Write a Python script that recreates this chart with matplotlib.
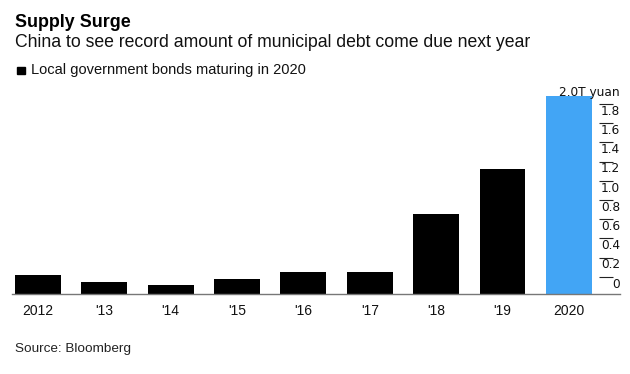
import numpy as np
import matplotlib.pyplot as plt
from matplotlib.patches import Rectangle

plt.rcParams['font.family'] = ['Liberation Sans', 'DejaVu Sans']

# ================ 数据 ================
years = ['2012', "'13", "'14", "'15", "'16", "'17", "'18", "'19", '2020']
values = [0.20, 0.13, 0.09, 0.16, 0.23, 0.23, 0.83, 1.30, 2.06]   # trillion yuan
colors = ['black'] * 8 + ['#42a5f5']
tick_vals = [0, 0.2, 0.4, 0.6, 0.8, 1.0, 1.2, 1.4, 1.6, 1.8]
tick_labels = ['0', '0.2', '0.4', '0.6', '0.8', '1.0', '1.2', '1.4', '1.6', '1.8']
tick_shift = 0.18   # labels sit a little above the bar baseline

W, H = 630, 374
fig = plt.figure(figsize=(W / 100, H / 100), dpi=100)
ax = fig.add_axes([12 / W, 80 / H, 608 / W, 214 / H])

x = np.arange(len(years))
ax.bar(x, values, width=0.69, color=colors, zorder=2)
ax.set_xlim(-0.39, 8.77)
ax.set_ylim(0, 214 / 96)

for s in ['top', 'right', 'left']:
    ax.spines[s].set_visible(False)
ax.spines['bottom'].set_color('#777777')
ax.spines['bottom'].set_linewidth(1.0)

ax.set_xticks(x, years)
ax.tick_params(axis='x', length=0, pad=7, labelsize=10, labelcolor='#111111')
ax.set_yticks([])

# 右侧刻度：短线 + 下方数字
tr = ax.get_yaxis_transform()
for v, lab in zip(tick_vals, tick_labels):
    y = v + tick_shift
    ax.hlines(y, 0.9655, 0.9885, transform=tr, color='#222222', lw=0.8)
    ax.text(1.0, y - 0.01, lab, transform=tr, ha='right', va='top',
            fontsize=8.7, color='#111111', family='DejaVu Sans')
ax.text(1.0, 2.0 + tick_shift - 0.01, '2.0T yuan', transform=tr, ha='right',
        va='top', fontsize=8.7, color='#111111', family='DejaVu Sans')

# ================ 标题与图例 ================
fig.text(15 / W, 1 - 27 / H, 'Supply Surge', fontsize=12.9, fontweight='bold',
         va='baseline', color='black')
fig.text(15 / W, 1 - 47 / H,
         'China to see record amount of municipal debt come due next year',
         fontsize=12.7, va='baseline', color='#111111')
fig.add_artist(Rectangle((17 / W, 1 - 74 / H), 8 / W, 7.5 / H,
                         transform=fig.transFigure, color='black'))
fig.text(31 / W, 1 - 74 / H, 'Local government bonds maturing in 2020',
         fontsize=10.5, va='baseline', color='#111111')
fig.text(15 / W, 1 - 352 / H, 'Source: Bloomberg', fontsize=9.7,
         va='baseline', color='#222222')

fig.savefig('out.png', dpi=100)
